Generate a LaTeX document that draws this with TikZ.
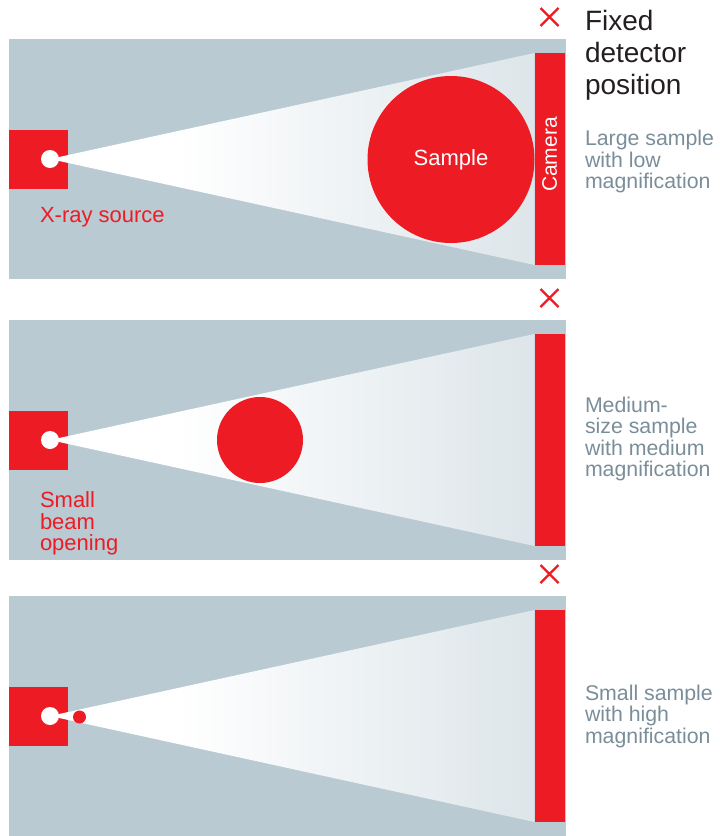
\documentclass[tikz,border=0pt]{standalone}
\usepackage{fontspec}
\setmainfont{Liberation Sans}
\usetikzlibrary{positioning,shapes.misc}

\definecolor{xred}{HTML}{ED1C24}
\definecolor{panelgray}{HTML}{B9CAD2}
\definecolor{beamgray}{HTML}{C6D4DB}
\definecolor{notegray}{HTML}{7A8E99}
\definecolor{ink}{HTML}{231F20}

% white near the source, fading into the panel colour at the camera
\pgfdeclarehorizontalshading{beam}{100bp}{color(0bp)=(white); color(38bp)=(white); color(100bp)=(beamgray)}

\begin{document}
\begin{tikzpicture}[
    x=1pt, y=-1pt,
    every node/.style={inner sep=0pt, outer sep=0pt},
    panel/.style={fill=panelgray},
    source/.style={rectangle, fill=xred, minimum size=59},
    pinhole/.style={circle, fill=white, minimum size=18},
    camera/.style={rectangle, fill=xred, minimum width=30.5, minimum height=212},
    sample/.style={circle, fill=xred, text=white},
    fixmark/.style={cross out, draw=xred, line width=2.2pt, minimum size=18},
    redlabel/.style={text=xred, font=\fontsize{22}{21.5}\selectfont, align=left, anchor=base west},
    note/.style={text=notegray, font=\fontsize{21.3}{21.5}\selectfont, align=left, anchor=base west}
]
\useasboundingbox (0,0) rectangle (720,836);

% Panels: source, beam, camera
\foreach \y/\n in {39/1, 320/2, 596/3} {
    \fill[panel] (9,\y) rectangle (566,\y+240);
    \node[source] (src\n) at (38.5,\y+120) {};
    \node[camera] (cam\n) at (549.75,\y+120) {};
    \coordinate (apex\n) at (50,\y+120);
    \shade[shading=beam] (apex\n) -- (cam\n.north west) -- (cam\n.south west) -- cycle;
    \node[pinhole] (hole\n) at (apex\n) {};
    \node[fixmark] (fix\n) at (549.5,\y-22) {};
}

% Samples
\node[sample, minimum size=167, font=\fontsize{22}{26}\selectfont] (big) at (451,159.5) {Sample};
\node[sample, minimum size=86] (mid) at (260,440) {};
\node[sample, minimum size=13] (tiny) at (79.5,717) {};

\node[rotate=90, text=white, font=\fontsize{21}{24}\selectfont] (camlabel) at ([yshift=4.5pt]cam1.center) {Camera};

% Labels (base = baseline of the last line)
\node[redlabel] (xsrc) at (40,222.3) {X-ray source};
\node[redlabel] (opening) at (40,550.5) {Small\\beam\\opening};

\node[anchor=base west, align=left, text=ink, font=\fontsize{28}{32}\selectfont] (fixed) at (585,94) {Fixed\\detector\\position};
\node[note] (large) at (585,188.5) {Large sample\\with low\\magnification};
\node[note] (medium) at (585,476.5) {Medium-\\size sample\\with medium\\magnification};
\node[note] (small) at (585,743) {Small sample\\with high\\magnification};

\end{tikzpicture}
\end{document}
